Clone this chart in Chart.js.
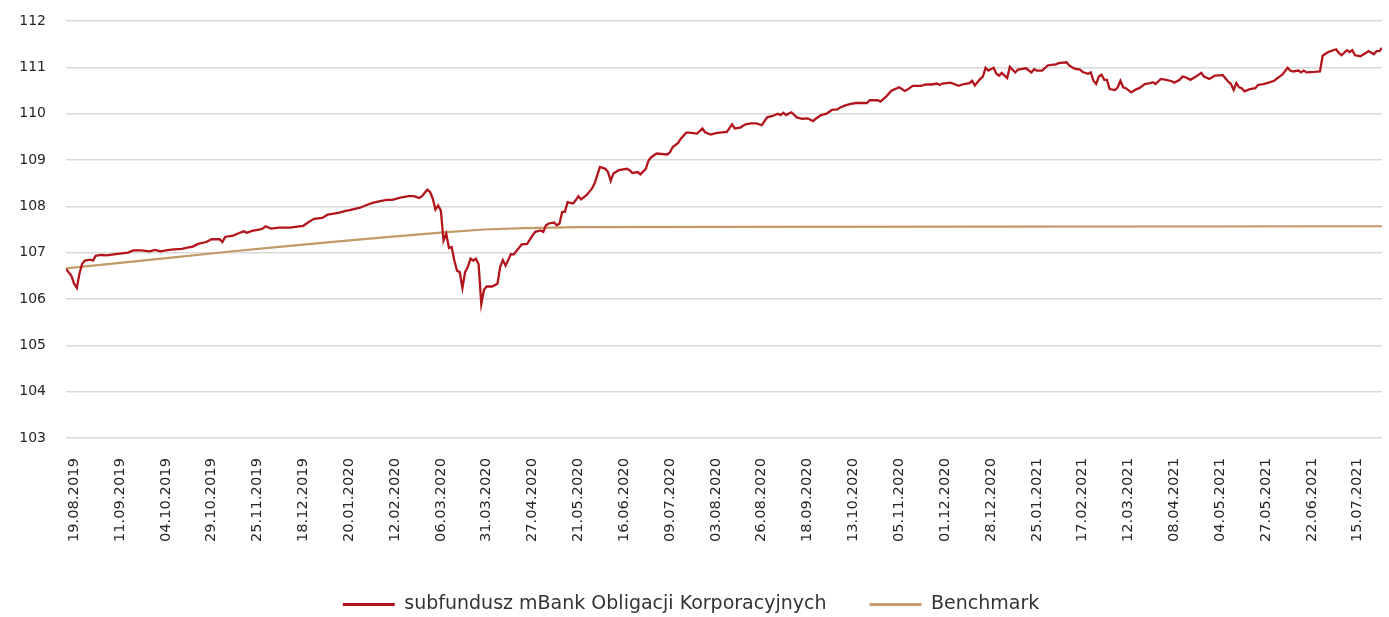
<!DOCTYPE html>
<html>
<head>
<meta charset="utf-8">
<script src="https://cdn.jsdelivr.net/npm/chart.js@4.4.0/dist/chart.umd.min.js"></script>
<style>
  html, body { margin: 0; padding: 0; background: #fff; }
  #wrap { width: 1389px; height: 617px; }
</style>
</head>
<body>
<div id="wrap"><canvas id="fundChart" width="1389" height="617"></canvas></div>
<script>
// etykiety osi X - co 17 sesji
const tickLabels = ['19.08.2019', '11.09.2019', '04.10.2019', '29.10.2019', '25.11.2019', '18.12.2019',
    '20.01.2020', '12.02.2020', '06.03.2020', '31.03.2020', '27.04.2020', '21.05.2020', '16.06.2020',
    '09.07.2020', '03.08.2020', '26.08.2020', '18.09.2020', '13.10.2020', '05.11.2020', '01.12.2020',
    '28.12.2020', '25.01.2021', '17.02.2021', '12.03.2021', '08.04.2021', '04.05.2021', '27.05.2021',
    '22.06.2021', '15.07.2021'];
const daysPerTick = 17;
const lastDay = 488;

// subfundusz - numer sesji i wartość
const fundDays = [0, 2, 3, 4, 5, 6, 7, 9, 10, 11, 13, 15, 17, 20, 23, 25, 28, 31, 33, 35, 37, 40, 43, 45, 47, 49,
    52, 54, 57, 58, 59, 62, 64, 66, 67, 69, 72, 73, 74, 76, 79, 83, 88, 90, 92, 95, 97, 101, 103, 106, 109, 112,
    114, 117, 119, 121, 124, 127, 129, 131, 132, 134, 135, 136, 137, 138, 139, 140, 141, 142, 143, 144, 145, 146,
    147, 148, 149, 150, 151, 152, 153, 154, 155, 156, 158, 160, 161, 162, 163, 165, 166, 169, 171, 173, 174, 176,
    177, 178, 179, 181, 182, 183, 184, 185, 186, 188, 189, 190, 191, 193, 195, 196, 197, 198, 200, 201, 202, 203,
    205, 208, 209, 210, 212, 213, 215, 216, 217, 219, 223, 224, 225, 227, 228, 230, 231, 234, 236, 237, 239, 241,
    244, 245, 247, 248, 250, 252, 254, 256, 258, 260, 262, 264, 265, 266, 267, 269, 271, 273, 275, 277, 278, 280,
    282, 284, 286, 287, 289, 291, 293, 297, 298, 301, 302, 304, 306, 307, 309, 311, 312, 314, 317, 319, 321, 323,
    324, 325, 328, 331, 333, 335, 336, 337, 339, 340, 341, 342, 344, 345, 346, 347, 349, 350, 352, 353, 356, 358,
    359, 360, 362, 364, 366, 367, 368, 371, 372, 374, 376, 377, 379, 380, 381, 382, 383, 384, 385, 386, 387, 389,
    390, 391, 392, 393, 395, 397, 398, 400, 402, 403, 404, 406, 408, 410, 411, 413, 414, 415, 417, 419, 421, 422,
    424, 426, 429, 431, 432, 433, 434, 435, 436, 437, 439, 441, 442, 444, 446, 448, 450, 451, 453, 454, 455, 457,
    458, 459, 460, 463, 465, 466, 468, 471, 472, 473, 475, 476, 477, 478, 480, 482, 483, 485, 486, 487, 488];
const fundValues = [106.65, 106.50, 106.33, 106.24, 106.55, 106.76, 106.83, 106.85, 106.83, 106.93, 106.95, 106.94,
    106.96, 106.98, 107.00, 107.05, 107.05, 107.03, 107.06, 107.03, 107.05, 107.07, 107.08, 107.11, 107.13, 107.19,
    107.23, 107.29, 107.29, 107.23, 107.34, 107.37, 107.42, 107.46, 107.43, 107.47, 107.50, 107.52, 107.57, 107.52,
    107.54, 107.54, 107.58, 107.66, 107.73, 107.75, 107.82, 107.86, 107.89, 107.93, 107.97, 108.04, 108.08, 108.12,
    108.14, 108.14, 108.19, 108.22, 108.22, 108.18, 108.22, 108.36, 108.31, 108.17, 107.93, 108.02, 107.91, 107.26,
    107.41, 107.10, 107.12, 106.83, 106.61, 106.58, 106.24, 106.58, 106.69, 106.87, 106.83, 106.87, 106.75, 105.89,
    106.20, 106.27, 106.27, 106.33, 106.69, 106.84, 106.72, 106.97, 106.96, 107.18, 107.19, 107.37, 107.45, 107.48,
    107.45, 107.59, 107.63, 107.65, 107.59, 107.63, 107.88, 107.88, 108.09, 108.06, 108.13, 108.22, 108.15, 108.24,
    108.38, 108.49, 108.67, 108.85, 108.81, 108.74, 108.55, 108.71, 108.78, 108.81, 108.78, 108.72, 108.74, 108.69,
    108.81, 108.99, 109.06, 109.14, 109.12, 109.17, 109.28, 109.37, 109.46, 109.59, 109.59, 109.57, 109.68, 109.60,
    109.55, 109.58, 109.60, 109.60, 109.77, 109.68, 109.70, 109.77, 109.79, 109.79, 109.75, 109.92, 109.95, 110.00,
    109.97, 110.02, 109.97, 110.03, 109.92, 109.89, 109.90, 109.84, 109.89, 109.97, 110.00, 110.08, 110.09, 110.13,
    110.18, 110.21, 110.23, 110.23, 110.29, 110.29, 110.26, 110.36, 110.49, 110.52, 110.57, 110.49, 110.52, 110.60,
    110.60, 110.63, 110.63, 110.65, 110.62, 110.65, 110.67, 110.60, 110.64, 110.66, 110.71, 110.61, 110.75, 110.80,
    110.99, 110.93, 110.99, 110.86, 110.82, 110.88, 110.77, 111.01, 110.89, 110.95, 110.98, 110.89, 110.96, 110.93,
    110.93, 111.04, 111.06, 111.06, 111.09, 111.11, 111.04, 110.97, 110.95, 110.90, 110.86, 110.89, 110.71, 110.64,
    110.80, 110.84, 110.73, 110.73, 110.53, 110.51, 110.57, 110.71, 110.57, 110.55, 110.46, 110.53, 110.55, 110.64,
    110.66, 110.68, 110.64, 110.75, 110.73, 110.70, 110.67, 110.73, 110.80, 110.79, 110.73, 110.80, 110.88, 110.80,
    110.75, 110.82, 110.83, 110.69, 110.64, 110.51, 110.66, 110.57, 110.55, 110.48, 110.53, 110.55, 110.62, 110.64,
    110.67, 110.71, 110.80, 110.84, 110.99, 110.93, 110.91, 110.93, 110.89, 110.93, 110.89, 110.90, 110.91, 111.25,
    111.33, 111.39, 111.31, 111.26, 111.37, 111.33, 111.37, 111.26, 111.24, 111.31, 111.35, 111.28, 111.35, 111.35,
    111.42];

// benchmark
const benchDays = [0, 20, 40, 60, 80, 100, 120, 140, 155, 170, 190, 250, 350, 488];
const benchValues = [106.66, 106.78, 106.90, 107.02, 107.13, 107.24, 107.34, 107.44, 107.50, 107.53, 107.55,
    107.555, 107.56, 107.57];

const fundColor = '#b2161c';
const benchColor = '#c49a6a';

function toPoints(days, values) {
    return days.map((d, i) => ({ x: d, y: values[i] }));
}

new Chart(document.getElementById('fundChart'), {
    type: 'line',
    data: {
        datasets: [{
            label: 'subfundusz mBank Obligacji Korporacyjnych',
            data: toPoints(fundDays, fundValues),
            borderColor: fundColor,
            backgroundColor: fundColor,
            borderWidth: 2.3,
            pointRadius: 0,
            tension: 0
        }, {
            label: 'Benchmark',
            data: toPoints(benchDays, benchValues),
            borderColor: benchColor,
            backgroundColor: benchColor,
            borderWidth: 2.2,
            pointRadius: 0,
            tension: 0
        }]
    },
    options: {
        responsive: false,
        animation: false,
        layout: { padding: { left: 0, right: 7, top: 21, bottom: -7 } },
        plugins: {
            tooltip: { enabled: false },
            legend: {
                position: 'bottom',
                labels: {
                    font: { family: 'DejaVu Sans', size: 19 },
                    color: '#333333',
                    boxWidth: 52,
                    boxHeight: 3,
                    padding: 43,
                    generateLabels: function (chart) {
                        const items = Chart.defaults.plugins.legend.labels.generateLabels(chart);
                        items.forEach(item => { item.lineWidth = 0; });
                        return items;
                    }
                }
            }
        },
        scales: {
            x: {
                type: 'linear',
                min: 0,
                max: lastDay,
                grid: { display: false },
                border: { display: false },
                afterBuildTicks: function (axis) {
                    axis.ticks = tickLabels.map((_, i) => ({ value: i * daysPerTick }));
                },
                afterFit: function (axis) {
                    axis.height = 114;
                },
                ticks: {
                    autoSkip: false,
                    minRotation: 90,
                    maxRotation: 90,
                    padding: 12,
                    labelOffset: 8,
                    color: '#262626',
                    font: { family: 'DejaVu Sans', size: 14.7 },
                    callback: function (value) {
                        return tickLabels[Math.round(value / daysPerTick)];
                    }
                }
            },
            y: {
                min: 103,
                max: 112,
                border: { display: false },
                grid: { color: '#d9d9d9', lineWidth: 1.5, drawTicks: false },
                afterFit: function (axis) {
                    axis.width = 66;
                    axis.paddingTop = 0;
                },
                ticks: {
                    stepSize: 1,
                    padding: 20,
                    color: '#262626',
                    font: { family: 'DejaVu Sans', size: 14 }
                }
            }
        }
    }
});
</script>
</body>
</html>
